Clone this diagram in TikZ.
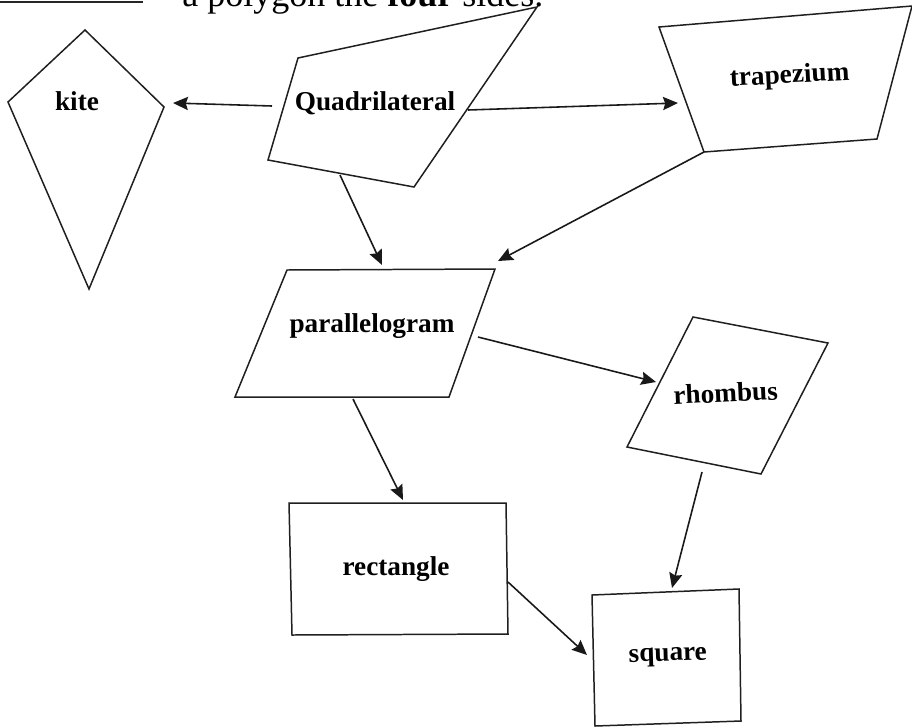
\documentclass[tikz,border=0pt]{standalone}
\usepackage{fontspec}
\setmainfont{Liberation Serif}
\usetikzlibrary{arrows.meta}
\begin{document}
\begin{tikzpicture}[x=0.02cm,y=-0.02cm,
  shapeline/.style={draw=black!88,line width=0.85pt,line join=miter},
  lbl/.style={anchor=base,inner sep=0pt,font=\fontsize{15.5}{17}\selectfont\bfseries},
  conn/.style={draw=black!90,line width=0.9pt,-{Stealth[length=8.5pt,width=7.5pt,inset=1.2pt]}}]
\useasboundingbox (0,0) rectangle (912,727);
% top cut-off text line
\draw[line width=1.6pt,black!85] (0,2) -- (143,2);
\node[anchor=base west,inner sep=0pt,font=\fontsize{20.5}{23}\selectfont] (toptext) at (182,6) {a polygon the \textbf{four} sides.};
% shapes
\draw[shapeline] (85,30) -- (164,107) -- (89,289) -- (8,102) -- cycle;
\draw[shapeline] (298,58) -- (537,7) -- (414,187) -- (268,160) -- cycle;
\draw[shapeline] (659,27) -- (912,6) -- (877,139) -- (704,152) -- cycle;
\draw[shapeline] (287,270) -- (495,269) -- (449,397) -- (235,397) -- cycle;
\draw[shapeline] (693,317) -- (828,343) -- (761,474) -- (627,447) -- cycle;
\draw[shapeline] (289,503) -- (506,503) -- (508,634) -- (292,635) -- cycle;
\draw[shapeline] (592,595) -- (739,589) -- (741,721) -- (595,726) -- cycle;
% labels
\node[lbl] (kite) at (77,110) {kite};
\node[lbl] (quad) at (375,110) {Quadrilateral};
\node[lbl,rotate=3] (trap) at (790,83) {trapezium};
\node[lbl] (para) at (372,332) {parallelogram};
\node[lbl,rotate=2.6] (rhom) at (726,402) {rhombus};
\node[lbl] (rect) at (396,575) {rectangle};
\node[lbl,rotate=1.7] (squa) at (668,661) {square};
% connector end points
\coordinate (qk1) at (272,106); \coordinate (qk2) at (173,103);
\coordinate (qt1) at (468,110); \coordinate (qt2) at (678,103);
\coordinate (qp1) at (340,175); \coordinate (qp2) at (382,265);
\coordinate (tp1) at (704,152); \coordinate (tp2) at (498,261);
\coordinate (pr1) at (478,337); \coordinate (pr2) at (656,382);
\coordinate (pc1) at (353,399); \coordinate (pc2) at (403,500);
\coordinate (rs1) at (702,472); \coordinate (rs2) at (672,588);
\coordinate (cs1) at (508,582); \coordinate (cs2) at (587,655);
% connectors
\draw[conn] (qk1) -- (qk2);
\draw[conn] (qt1) -- (qt2);
\draw[conn] (qp1) -- (qp2);
\draw[conn] (tp1) -- (tp2);
\draw[conn] (pr1) -- (pr2);
\draw[conn] (pc1) -- (pc2);
\draw[conn] (rs1) -- (rs2);
\draw[conn] (cs1) -- (cs2);
\end{tikzpicture}
\end{document}
